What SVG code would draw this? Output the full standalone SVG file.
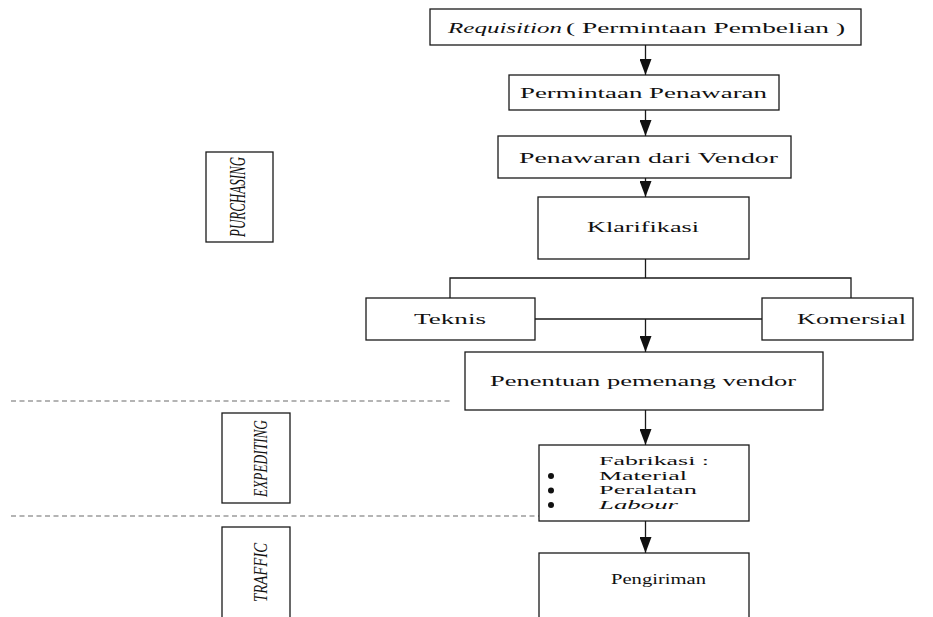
<svg xmlns="http://www.w3.org/2000/svg" width="933" height="617" viewBox="0 0 933 617">
<style>
  .box { fill: #ffffff; stroke: #1a1a1a; stroke-width: 1.3; }
  .t { font-family: 'Liberation Serif', 'Times New Roman', 'DejaVu Serif', serif; font-size: 15px; fill: #111; }
  .s { font-size: 13px; }
  .it { font-style: italic; }
  .side { font-family: 'Liberation Serif', 'Times New Roman', 'DejaVu Serif', serif; font-style: italic; fill: #111; }
  .ln { stroke: #1a1a1a; stroke-width: 1.3; fill: none; }
  .dash { stroke: #6a6a6a; stroke-width: 1.1; stroke-dasharray: 5 3.5; fill: none; }
</style>
<defs>
  <marker id="ah" markerUnits="userSpaceOnUse" markerWidth="16" markerHeight="12" viewBox="0 0 16 12" refX="16" refY="6" orient="auto">
    <path d="M0,0 L16,6 L0,12 Z" fill="#111"/>
  </marker>
</defs>

<g id="connectors">
  <line class="ln" x1="645.5" y1="45" x2="645.5" y2="75" marker-end="url(#ah)"/>
  <line class="ln" x1="645.5" y1="110" x2="645.5" y2="136" marker-end="url(#ah)"/>
  <line class="ln" x1="645.5" y1="178" x2="645.5" y2="197" marker-end="url(#ah)"/>
  <polyline class="ln" points="645.5,259 645.5,278"/>
  <polyline class="ln" points="450,298 450,278 851,278 851,298"/>
  <line class="ln" x1="535" y1="319" x2="762" y2="319"/>
  <line class="ln" x1="645.5" y1="319" x2="645.5" y2="352" marker-end="url(#ah)"/>
  <line class="ln" x1="645.5" y1="410" x2="645.5" y2="445" marker-end="url(#ah)"/>
  <line class="ln" x1="645.5" y1="521" x2="645.5" y2="553" marker-end="url(#ah)"/>
  <line class="dash" x1="11" y1="401" x2="451" y2="401"/>
  <line class="dash" x1="11" y1="516" x2="539" y2="516"/>
</g>

<g id="n-requisition">
  <rect class="box" x="430" y="9" width="431" height="36"/>
  <text class="t it" x="448" y="33" textLength="114" lengthAdjust="spacingAndGlyphs">Requisition</text>
  <text class="t" x="566" y="33" textLength="279" lengthAdjust="spacingAndGlyphs">( Permintaan Pembelian )</text>
</g>

<g id="n-permintaan-penawaran">
  <rect class="box" x="509" y="75" width="270" height="35"/>
  <text class="t" x="520" y="98" textLength="247" lengthAdjust="spacingAndGlyphs">Permintaan Penawaran</text>
</g>

<g id="n-penawaran-vendor">
  <rect class="box" x="498" y="136" width="293" height="42"/>
  <text class="t" x="519" y="163" textLength="259" lengthAdjust="spacingAndGlyphs">Penawaran dari Vendor</text>
</g>

<g id="n-klarifikasi">
  <rect class="box" x="538" y="197" width="211" height="62"/>
  <text class="t" x="587" y="232" textLength="112" lengthAdjust="spacingAndGlyphs">Klarifikasi</text>
</g>

<g id="n-teknis">
  <rect class="box" x="366" y="298" width="169" height="42"/>
  <text class="t" x="414" y="324" textLength="72" lengthAdjust="spacingAndGlyphs">Teknis</text>
</g>

<g id="n-komersial">
  <rect class="box" x="762" y="298" width="151" height="42"/>
  <text class="t" x="797" y="324" textLength="109" lengthAdjust="spacingAndGlyphs">Komersial</text>
</g>

<g id="n-penentuan">
  <rect class="box" x="465" y="352" width="358" height="58"/>
  <text class="t" x="490" y="386" textLength="306" lengthAdjust="spacingAndGlyphs">Penentuan pemenang vendor</text>
</g>

<g id="n-fabrikasi">
  <rect class="box" x="539" y="445" width="210" height="76"/>
  <text class="t s" x="599" y="465" textLength="110" lengthAdjust="spacingAndGlyphs">Fabrikasi :</text>
  <circle cx="551" cy="476" r="3" fill="#111"/>
  <text class="t s" x="599" y="479.5" textLength="88" lengthAdjust="spacingAndGlyphs">Material</text>
  <circle cx="551" cy="490.5" r="3" fill="#111"/>
  <text class="t s" x="599" y="494" textLength="98" lengthAdjust="spacingAndGlyphs">Peralatan</text>
  <circle cx="551" cy="505" r="3" fill="#111"/>
  <text class="t s it" x="599" y="508.5" textLength="79" lengthAdjust="spacingAndGlyphs">Labour</text>
</g>

<g id="n-pengiriman">
  <rect class="box" x="539" y="553" width="210" height="72"/>
  <text class="t" x="611" y="584" textLength="95" lengthAdjust="spacingAndGlyphs">Pengiriman</text>
</g>

<g id="n-purchasing">
  <rect class="box" x="206" y="152" width="67" height="90"/>
  <text class="side" font-size="23" transform="translate(245,197) rotate(-90)" text-anchor="middle" textLength="80" lengthAdjust="spacingAndGlyphs">PURCHASING</text>
</g>

<g id="n-expediting">
  <rect class="box" x="222" y="413" width="68" height="90"/>
  <text class="side" font-size="19" transform="translate(267,458.5) rotate(-90)" text-anchor="middle" textLength="77" lengthAdjust="spacingAndGlyphs">EXPEDITING</text>
</g>

<g id="n-traffic">
  <rect class="box" x="222" y="527" width="68" height="98"/>
  <text class="side" font-size="19" transform="translate(267,572.5) rotate(-90)" text-anchor="middle" textLength="59" lengthAdjust="spacingAndGlyphs">TRAFFIC</text>
</g>
</svg>
